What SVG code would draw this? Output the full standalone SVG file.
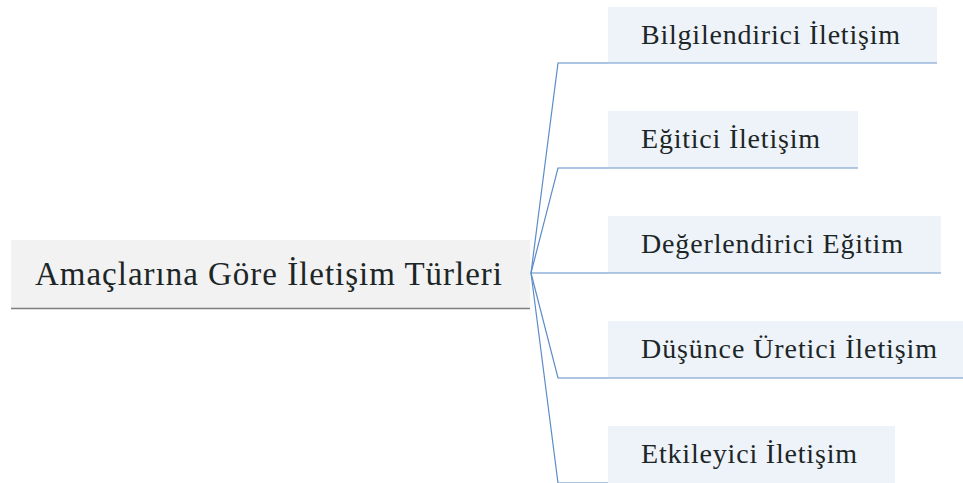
<svg xmlns="http://www.w3.org/2000/svg" width="963" height="483" viewBox="0 0 963 483">
  <style>
    .root-box { fill: #f2f2f2; }
    .root-rule { stroke: #7f7f7f; stroke-width: 1.5; }
    .child-box { fill: #eef3f9; }
    .child-rule { stroke: #6d95c8; stroke-width: 1.2; }
    .link { fill: none; stroke: #5b8cc8; stroke-width: 1.2; }
    .label { font-family: "Liberation Serif", "Times New Roman", serif; fill: #1c2626; }
    .root-label { font-size: 33px; }
    .child-label { font-size: 28px; }
  </style>

  <rect width="963" height="483" fill="#ffffff"/>

  <!-- branch connectors from the root to each topic -->
  <g id="connectors">
    <polyline class="link" points="531,273 558,63 608,63"/>
    <polyline class="link" points="531,273 558,168 608,168"/>
    <polyline class="link" points="531,273 608,273"/>
    <polyline class="link" points="531,273 558,378 608,378"/>
    <polyline class="link" points="531,273 558,483 608,483"/>
  </g>

  <g id="root">
    <rect class="root-box" x="11" y="240" width="519" height="68"/>
    <line class="root-rule" x1="11" y1="308.5" x2="530" y2="308.5"/>
    <text class="label root-label" x="35" y="285" textLength="467" lengthAdjust="spacing">Amaçlarına Göre İletişim Türleri</text>
  </g>

  <g id="bilgilendirici">
    <rect class="child-box" x="608" y="7" width="329" height="56"/>
    <line class="child-rule" x1="608" y1="63" x2="937" y2="63"/>
    <text class="label child-label" x="641" y="44" textLength="259" lengthAdjust="spacing">Bilgilendirici İletişim</text>
  </g>

  <g id="egitici">
    <rect class="child-box" x="608" y="111" width="250" height="57"/>
    <line class="child-rule" x1="608" y1="168" x2="858" y2="168"/>
    <text class="label child-label" x="641" y="148" textLength="179" lengthAdjust="spacing">Eğitici İletişim</text>
  </g>

  <g id="degerlendirici">
    <rect class="child-box" x="608" y="216" width="333" height="57"/>
    <line class="child-rule" x1="608" y1="273" x2="941" y2="273"/>
    <text class="label child-label" x="641" y="253" textLength="262" lengthAdjust="spacing">Değerlendirici Eğitim</text>
  </g>

  <g id="dusunce">
    <rect class="child-box" x="608" y="321" width="355" height="57"/>
    <line class="child-rule" x1="608" y1="378" x2="963" y2="378"/>
    <text class="label child-label" x="641" y="358" textLength="296" lengthAdjust="spacing">Düşünce Üretici İletişim</text>
  </g>

  <g id="etkileyici">
    <rect class="child-box" x="608" y="426" width="287" height="57"/>
    <text class="label child-label" x="641" y="463" textLength="216" lengthAdjust="spacing">Etkileyici İletişim</text>
  </g>
</svg>
